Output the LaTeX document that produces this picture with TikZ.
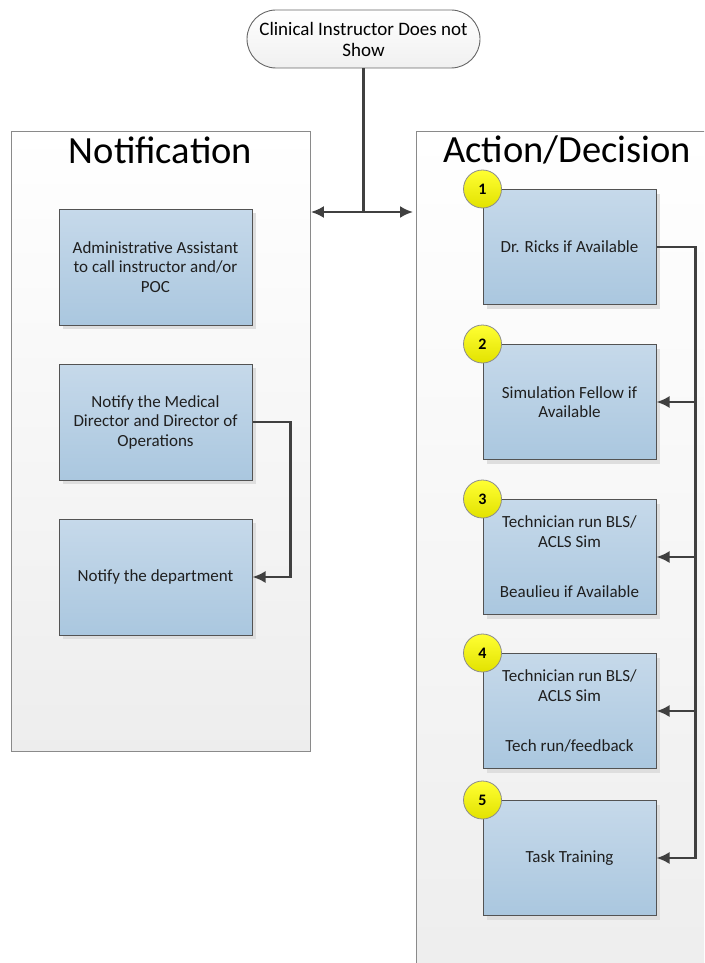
\documentclass[tikz,border=0pt]{standalone}
\usepackage{fontspec}
\setmainfont{Carlito}
\usepackage{xcolor}
\usepackage{tikz}
\usetikzlibrary{arrows}
\usetikzlibrary{arrows.meta}
\usetikzlibrary{shadows}
\usetikzlibrary{calc}
\definecolor{linecolor}{HTML}{404040}
\definecolor{boxtop}{HTML}{C6D9EA}
\definecolor{boxbot}{HTML}{AAC7DF}
\definecolor{paneledge}{HTML}{8A8A8A}
\definecolor{badgetop}{HTML}{FFFF33}
\definecolor{badgebot}{HTML}{E2E200}

\tikzset{
  panel/.style={draw=paneledge, line width=0.9pt, top color=white, bottom color=black!7, anchor=north west, inner sep=0pt},
  paneltitle/.style={font=\fontsize{38.5}{42}\selectfont, inner sep=0pt},
  stepbox/.style={draw=linecolor!90, line width=1pt, top color=boxtop, bottom color=boxbot,
    general shadow={fill=black!13, shadow xshift=4pt, shadow yshift=-4pt},
    align=center, font=\fontsize{17}{19.5}\selectfont, text=black!88, inner sep=0pt},
  leftbox/.style={stepbox, minimum width=193pt, minimum height=116pt},
  rightbox/.style={stepbox, minimum width=173pt, minimum height=115pt},
  badge/.style={circle, draw=black!45, line width=0.8pt, top color=badgetop, bottom color=badgebot,
    minimum size=38pt, inner sep=0pt, font=\fontsize{16}{18}\selectfont\bfseries},
  startbox/.style={draw=black!60, line width=0.9pt, rounded corners=29pt, top color=white, bottom color=black!6,
    minimum width=233pt, minimum height=58pt, align=center, font=\fontsize{19}{21}\selectfont, inner sep=0pt},
  link/.style={draw=linecolor, line width=2.2pt, -{Latex[length=13pt,width=12pt]}},
}

\begin{document}
\begin{tikzpicture}[x=1pt,y=-1pt]
\useasboundingbox (0,0) rectangle (704,963);
\clip (0,0) rectangle (704,963);
% swimlanes
\node[panel, minimum width=299pt, minimum height=620pt] (notif) at (11,131) {};
\node[panel, minimum width=320pt, minimum height=860pt] (action) at (416,131) {};
\node[paneltitle] (notiftitle) at (160.5,150) {Notification};
\node[paneltitle] (actiontitle) at (567,150) {Action/Decision};

% start
\node[startbox] (start) at (363.5,39) {Clinical Instructor Does not\\Show};

% notification steps
\node[leftbox] (assist) at (155.5,267) {Administrative Assistant\\to call instructor and/or\\POC};
\node[leftbox] (notify) at (155.5,422) {Notify the Medical\\Director and Director of\\Operations};
\node[leftbox] (dept) at (155.5,577) {Notify the department};

% action steps
\foreach \n/\y/\txt in {1/247/{Dr. Ricks if Available},
                        2/402/{Simulation Fellow if\\Available},
                        3/557/{Technician run BLS/\\ACLS Sim\\[31pt]Beaulieu if Available},
                        4/711/{Technician run BLS/\\ACLS Sim\\[31pt]Tech run/feedback},
                        5/858/{Task Training}}
{
  \node[rightbox] (act\n) at (569.5,\y) {\txt};
  \node[badge] (badge\n) at (act\n.north west) {\n};
}

% connectors
\draw[draw=linecolor, line width=2.2pt] (start.south) -- (363.5,212) coordinate (split);
\draw[link] (split) -- (notif.east |- split);
\draw[link] (split) -- ($(action.west |- split)+(-3,0)$);
\draw[link] (notify.east) -- ++(38,0) |- (dept.east);
\draw[link] (act1.east) -- ++(39,0) coordinate (bus) |- (act5.east);
\foreach \n in {2,3,4}
    \draw[link] (bus |- act\n.east) -- (act\n.east);
\end{tikzpicture}
\end{document}
